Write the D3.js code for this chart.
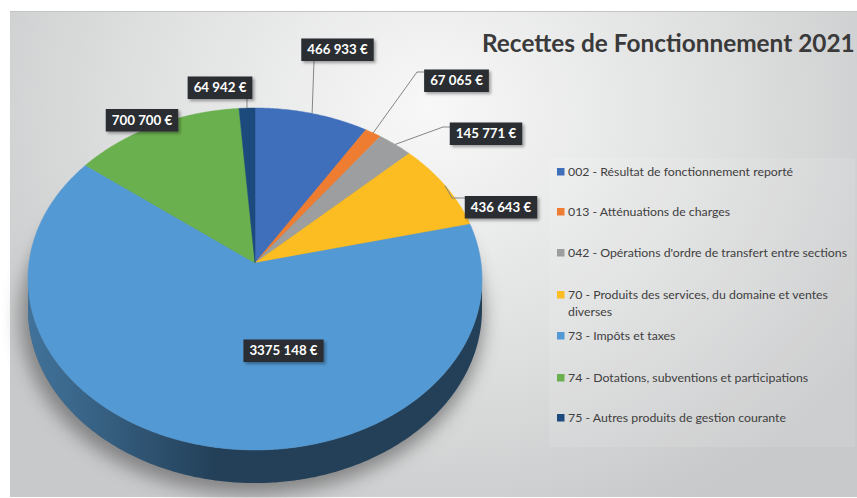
<!DOCTYPE html>
<html>
<head>
<meta charset="utf-8">
<script src="https://cdn.jsdelivr.net/npm/d3@7"></script>
<style>
  html, body { margin: 0; padding: 0; background: #ffffff; }
  svg { display: block; }
</style>
</head>
<body>
<svg id="chart" width="857" height="498"></svg>
<script>
// ---- data ----
const categories = [
  "002 - Résultat de fonctionnement reporté",
  "013 - Atténuations de charges",
  "042 - Opérations d'ordre de transfert entre sections",
  "70 - Produits des services, du domaine et ventes diverses",
  "73 - Impôts et taxes",
  "74 - Dotations, subventions et participations",
  "75 - Autres produits de gestion courante"
];
const values = [466933, 67065, 145771, 436643, 3375148, 700700, 64942];
const colors = ["#3f6fba", "#ee7d31", "#9c9e9f", "#fbbd22", "#5399d3", "#6bb04f", "#1c4a7c"];
const title = "Recettes de Fonctionnement 2021";

// ---- layout constants ----
const W = 857, H = 498;
const cx = 255, cy = 263, Rx = 226, Ry = 169.5, persp = 0.0936, depth = 30;

const svg = d3.select("#chart");
const defs = svg.append("defs");

// background gradient
const bg = defs.append("radialGradient").attr("id", "bgGrad")
  .attr("gradientUnits", "userSpaceOnUse")
  .attr("cx", 430).attr("cy", 110).attr("r", 520)
  .attr("gradientTransform", "translate(430,110) scale(1,0.85) translate(-430,-110)");
bg.append("stop").attr("offset", 0).attr("stop-color", "#f8f8f8");
bg.append("stop").attr("offset", 0.55).attr("stop-color", "#dfe0e0");
bg.append("stop").attr("offset", 1).attr("stop-color", "#c8c9ca");

const shadowF = defs.append("filter").attr("id", "pieShadow")
  .attr("x", "-20%").attr("y", "-20%").attr("width", "140%").attr("height", "140%");
shadowF.append("feGaussianBlur").attr("stdDeviation", 9);

const boxF = defs.append("filter").attr("id", "boxShadow")
  .attr("x", "-20%").attr("y", "-30%").attr("width", "150%").attr("height", "180%");
boxF.append("feDropShadow").attr("dx", 2).attr("dy", 2).attr("stdDeviation", 1.5)
  .attr("flood-color", "#000").attr("flood-opacity", 0.35);

const wallGrad = defs.append("linearGradient").attr("id", "wallGrad")
  .attr("gradientUnits", "userSpaceOnUse").attr("x1", 28).attr("x2", 215).attr("y1", 0).attr("y2", 0);
wallGrad.append("stop").attr("offset", 0).attr("stop-color", "#5a9bd0").attr("stop-opacity", 0.55);
wallGrad.append("stop").attr("offset", 0.3).attr("stop-color", "#5a9bd0").attr("stop-opacity", 0.4);
wallGrad.append("stop").attr("offset", 1).attr("stop-color", "#5a9bd0").attr("stop-opacity", 0);

svg.append("rect").attr("x", 10).attr("y", 11).attr("width", W - 10).attr("height", 486)
  .attr("fill", "url(#bgGrad)");
svg.append("line").attr("x1", 10).attr("x2", W).attr("y1", 11.5).attr("y2", 11.5)
  .attr("stroke", "#c4c4c4").attr("stroke-width", 1);

// ---- projection of the tilted pie ----
function proj(a, dz = 0) {
  const X = Math.sin(a), Z = -Math.cos(a);
  const w = 1 / (1 - persp * Z);
  return [cx + Rx * X * w, cy + Ry * Z * w + dz * w];
}
function arcPts(a0, a1, dz = 0) {
  const n = Math.max(2, Math.ceil(Math.abs(a1 - a0) / 0.01));
  return d3.range(n + 1).map(i => proj(a0 + (a1 - a0) * i / n, dz));
}
const line = d3.line();

const pie = d3.pie().sort(null).value(d => d)(values);

// shadow under the pie
const aR = Math.acos(-persp), aL = 2 * Math.PI - aR;
const outline = arcPts(0, 2 * Math.PI, depth);
svg.append("path").attr("d", line(outline) + "Z")
  .attr("fill", "#6a6b6c").attr("opacity", 0.75)
  .attr("transform", "translate(-3,7) translate(255,280) scale(1.02) translate(-255,-280)")
  .attr("filter", "url(#pieShadow)");

// side wall (front)
const gWall = svg.append("g");
pie.forEach((d, i) => {
  const s = Math.max(d.startAngle, aR), e = Math.min(d.endAngle, aL);
  if (e <= s) return;
  const top = arcPts(s, e, 0), bot = arcPts(s, e, depth).reverse();
  const p = line(top.concat(bot)) + "Z";
  gWall.append("path").attr("d", p).attr("fill", d3.color(colors[i]).darker(2.45));
  gWall.append("path").attr("d", p).attr("fill", "url(#wallGrad)");
});

// top face
svg.append("g").selectAll("path").data(pie).join("path")
  .attr("d", d => line([[cx, cy]].concat(arcPts(d.startAngle, d.endAngle))) + "Z")
  .attr("fill", (d, i) => colors[i])
  .attr("stroke", (d, i) => colors[i]).attr("stroke-width", 0.5);

// ---- title ----
const titleT = svg.append("text").text(title)
  .attr("x", 482).attr("y", 52)
  .attr("font-family", "Lato, 'Open Sans', sans-serif").attr("font-weight", 700)
  .attr("font-size", 23).attr("fill", "#3a3a3a");
const tw = titleT.node().getComputedTextLength();
titleT.attr("font-size", 23 * 373 / tw);

// ---- legend ----
svg.append("rect").attr("x", 549).attr("y", 158).attr("width", 306).attr("height", 289)
  .attr("fill", "#ffffff").attr("opacity", 0.1);
const legendY = [172, 212, 253, 295, 336, 378, 418];
const lg = svg.append("g").attr("font-family", "Lato, 'Open Sans', sans-serif")
  .attr("font-size", 12.3).attr("fill", "#404040");
categories.forEach((c, i) => {
  const y = legendY[i];
  lg.append("rect").attr("x", 557).attr("y", y - 4).attr("width", 7.5).attr("height", 7.5)
    .attr("fill", colors[i]);
  if (i === 3) {
    const cut = c.indexOf(" ventes") + 7;
    lg.append("text").attr("x", 568).attr("y", y + 4).text(c.slice(0, cut));
    lg.append("text").attr("x", 568).attr("y", y + 21).text(c.slice(cut + 1));
  } else {
    lg.append("text").attr("x", 568).attr("y", y + 4).text(c);
  }
});

// ---- data labels ----
const fr = d3.formatLocale({ decimal: ",", thousands: " ", grouping: [3, 4], currency: ["", " €"] });
const fmt = v => fr.format(",d")(v) + " €";

// label centre positions and leader elbow points (layout)
const labelPos = [
  { x: 337.5, y: 49.5, leader: [[314, 61]] },
  { x: 456.5, y: 80.5, leader: [[417, 72], [424, 72]] },
  { x: 486, y: 133.5, leader: [[443, 127], [450, 127]] },
  { x: 501, y: 207, leader: [[452, 198], [465, 198]] },
  { x: 283.5, y: 350.5, leader: null },
  { x: 142, y: 120, leader: null },
  { x: 220, y: 87.5, leader: [[247, 99]] }
];

const gLead = svg.append("g");
const gLab = svg.append("g");
pie.forEach((d, i) => {
  const lp = labelPos[i];
  if (lp.leader) {
    const mid = (d.startAngle + d.endAngle) / 2;
    const a = mid > Math.PI ? mid - 2 * Math.PI : mid;
    const pts = [proj(a)].concat(lp.leader);
    gLead.append("path").attr("d", line(pts)).attr("fill", "none")
      .attr("stroke", "#858585").attr("stroke-width", 1);
  }
  const g = gLab.append("g");
  const t = g.append("text").text(fmt(values[i]))
    .attr("x", lp.x).attr("y", lp.y + 4.5).attr("text-anchor", "middle")
    .attr("font-family", "Lato, 'Open Sans', sans-serif").attr("font-weight", 700)
    .attr("font-size", 13.3).attr("fill", "#ffffff");
  const bw = t.node().getComputedTextLength() + 12;
  g.insert("rect", "text").attr("x", lp.x - bw / 2).attr("y", lp.y - 11)
    .attr("width", bw).attr("height", 22.5)
    .attr("fill", "#2b2e31").attr("filter", "url(#boxShadow)");
});
</script>
</body>
</html>
